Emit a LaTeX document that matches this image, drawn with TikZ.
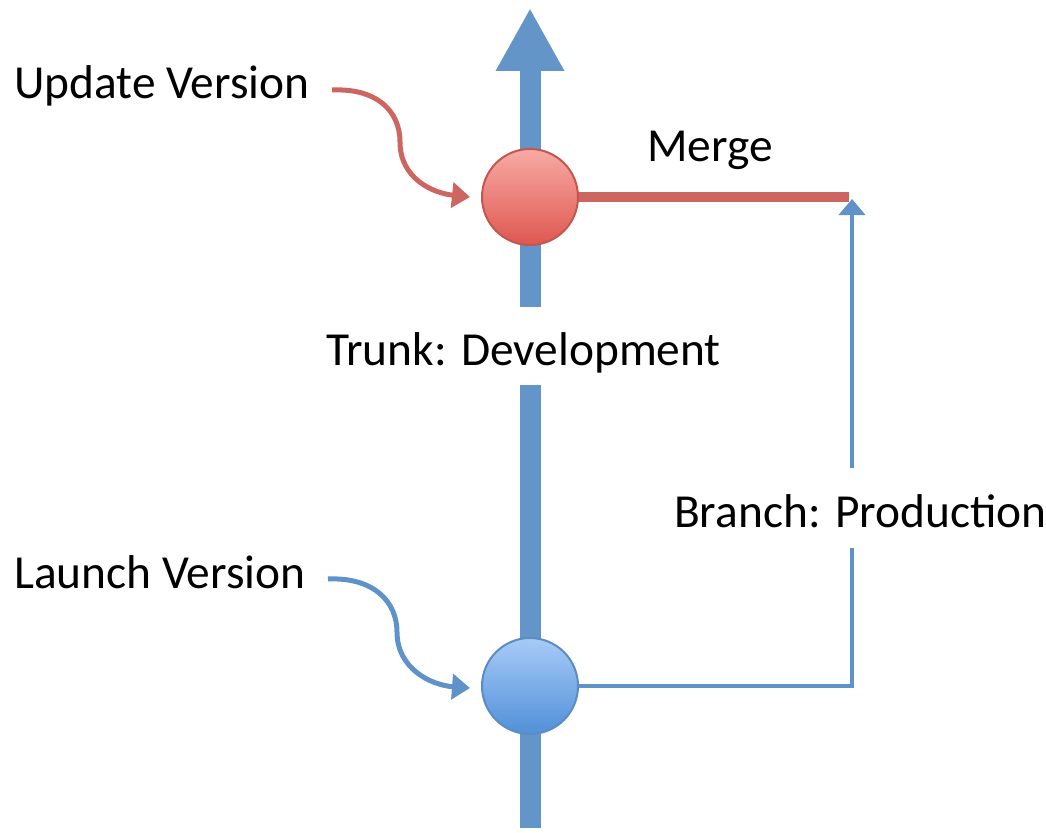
\documentclass[tikz,border=0pt]{standalone}
\usepackage{fontspec}
\setmainfont{Carlito}
\usetikzlibrary{arrows.meta}
\definecolor{trunkblue}{RGB}{99,149,201}
\definecolor{mergered}{RGB}{205,102,96}
\definecolor{branchblue}{RGB}{95,146,200}
\definecolor{redtop}{RGB}{248,170,165}
\definecolor{redbot}{RGB}{222,88,80}
\definecolor{redborder}{RGB}{196,86,80}
\definecolor{bluetop}{RGB}{168,203,248}
\definecolor{bluebot}{RGB}{80,144,216}
\definecolor{blueborder}{RGB}{92,140,196}
\tikzset{
  lbl/.style={anchor=base west, inner sep=0pt, font=\fontsize{47.4}{51}\selectfont},
  trunk/.style={draw=trunkblue, line width=21pt},
  mergeline/.style={draw=mergered, line width=9.5pt},
  branchline/.style={draw=branchblue, line width=4.5pt},
  curvearrow/.style={line width=5pt, -{Triangle[width=25pt,length=18pt]}},
  versionnode/.style={circle, minimum size=96pt, inner sep=0pt, line width=2pt}
}
\begin{document}
\begin{tikzpicture}[x=1pt,y=-1pt]
\useasboundingbox (0,0) rectangle (1046,832);

% coordinates
\coordinate (tbot) at (530,828);
\coordinate (tgapb) at (530,385);
\coordinate (tgapt) at (530,307);
\coordinate (ttop) at (530,8);
\coordinate (mrgend) at (849,197);
\coordinate (bcorner) at (852,686);
\coordinate (bgapb) at (852,548);
\coordinate (bgapt) at (852,468);
\coordinate (btop) at (852,199);
\coordinate (ustart) at (332,90);
\coordinate (uend) at (470,197);
\coordinate (lstart) at (328,579);
\coordinate (lend) at (470,688);

% trunk
\draw[trunk] (tbot) -- (tgapb);
\draw[trunk, -{Triangle[width=64pt,length=63pt]}] (tgapt) -- (ttop);

% version nodes
\node[versionnode, draw=redborder, top color=redtop, bottom color=redbot] (upd) at (530,197) {};
\node[versionnode, draw=blueborder, top color=bluetop, bottom color=bluebot] (lau) at (530,686) {};

% branch
\draw[branchline] (lau.east) -- (bcorner) -- (bgapb);
\draw[branchline, -{Triangle[width=26pt,length=16pt]}] (bgapt) -- (btop);

% merge
\draw[mergeline] (upd.east) -- (mrgend);

% curved arrows
\draw[curvearrow, draw=mergered] (ustart) .. controls (378,88) and (400,112) .. (400,142) .. controls (400,178) and (432,193) .. (uend);
\draw[curvearrow, draw=branchblue] (lstart) .. controls (374,577) and (397,602) .. (397,632) .. controls (397,668) and (430,685) .. (lend);

% labels
\node[lbl] (updlbl) at (14,99) {Update Version};
\node[lbl] (laulbl) at (14,588) {Launch Version};
\node[lbl] (mrglbl) at (647,161) {Merge};
\node[lbl] (trklbl) at (326,365) {Trunk: Development};
\node[lbl] (brlbl) at (674,527) {Branch: Production};
\end{tikzpicture}
\end{document}
